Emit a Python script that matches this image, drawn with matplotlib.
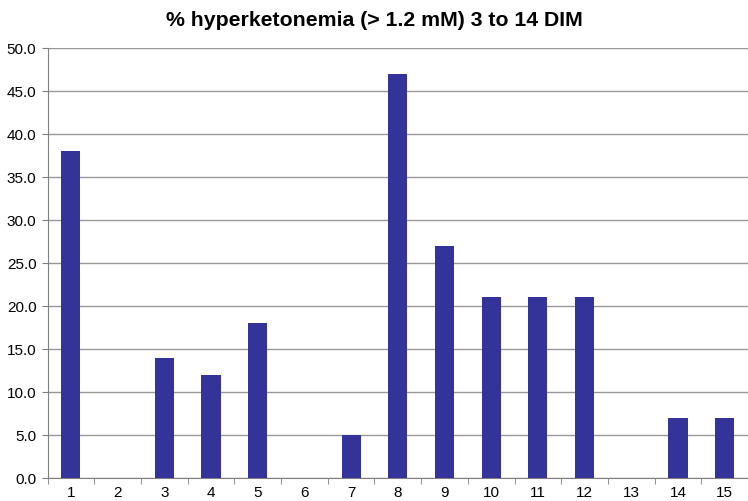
import matplotlib.pyplot as plt
import numpy as np

plt.rcParams['font.family'] = ['Liberation Sans', 'DejaVu Sans']

herds = [str(i) for i in range(1, 16)]
pct_hyperketonemia = [38.0, 0.0, 14.0, 12.0, 18.0, 0.0, 5.0, 47.0, 27.0, 21.0, 21.0, 21.0, 0.0, 7.0, 7.0]
yticks = np.arange(0, 50.1, 5)

fig = plt.figure(figsize=(7.48, 5.01), dpi=100)
ax = fig.add_axes([0.0636, 0.0459, 0.9364, 0.8581])

x = np.arange(len(herds))
ax.bar(x, pct_hyperketonemia, width=0.41, color='#333399', zorder=3)

ax.set_xlim(-0.5, len(herds) - 0.5)
ax.set_ylim(0, 50)
ax.set_yticks(yticks)
ax.set_yticklabels([f'{v:.1f}' for v in yticks], fontsize=11)
ax.set_xticks(x)
ax.set_xticklabels(herds, fontsize=11)
ax.tick_params(axis='x', length=0, pad=6)
ax.tick_params(axis='y', length=4, color='#808080', pad=4)

# category separator ticks on the x axis
ax.set_xticks(np.arange(-0.5, len(herds)), minor=True)
ax.tick_params(axis='x', which='minor', length=4, color='#808080')

ax.grid(axis='y', color='#999999', linewidth=1, zorder=0)
for side in ['top', 'right']:
    ax.spines[side].set_visible(False)
for side in ['left', 'bottom']:
    ax.spines[side].set_color('#808080')

fig.suptitle('% hyperketonemia (> 1.2 mM) 3 to 14 DIM', fontsize=15.3, fontweight='bold', y=0.978)

fig.savefig('out.png', dpi=100)
